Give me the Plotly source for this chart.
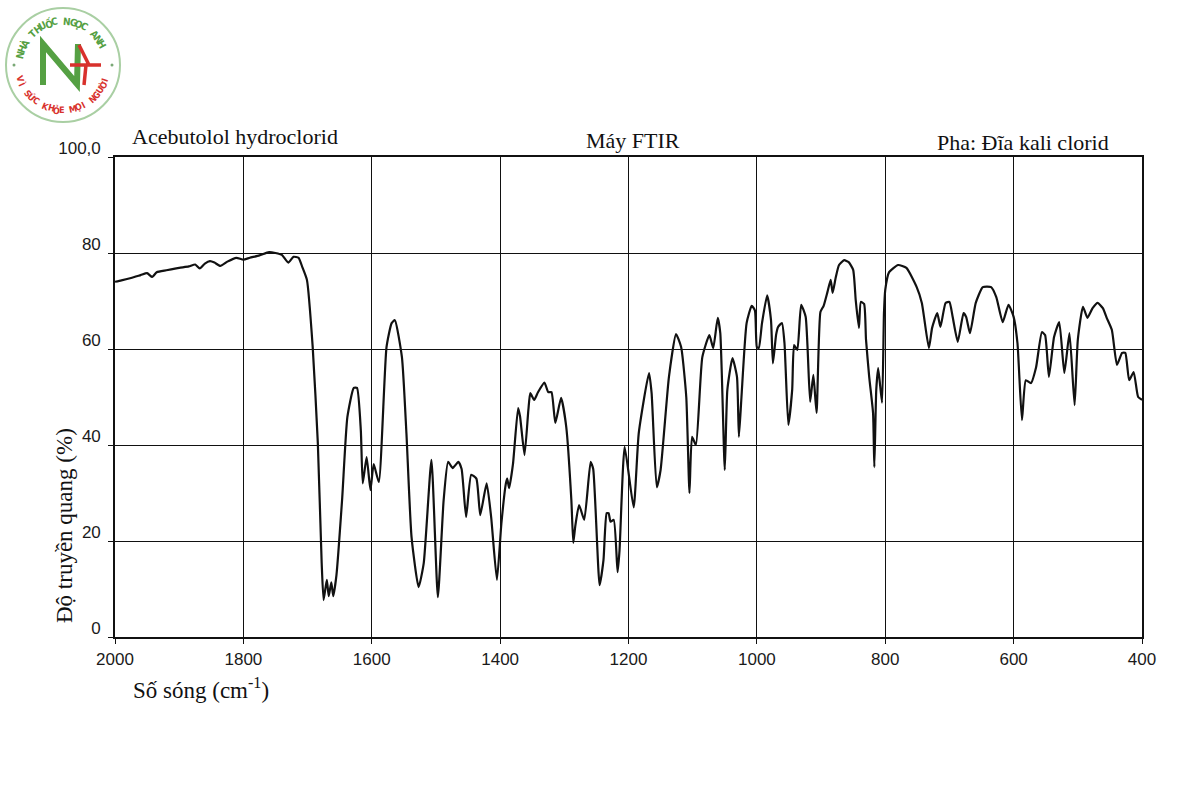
import math
import plotly.graph_objects as go

# ---------------- data ----------------
wavenumber = [
    2000, 1990, 1975, 1960, 1950, 1942, 1935, 1920, 1900, 1885, 1875, 1868, 1860, 1852,
    1845, 1836, 1825, 1811, 1800, 1790, 1775, 1760, 1750, 1740, 1730, 1722, 1714, 1708,
    1701, 1692, 1684, 1678, 1675, 1670, 1667, 1663, 1660, 1655, 1646, 1638, 1628, 1623,
    1617, 1614, 1608, 1602, 1597, 1589, 1577, 1569, 1564, 1553, 1546, 1538, 1527, 1519,
    1507, 1497, 1488, 1481, 1474, 1465, 1460, 1453, 1445, 1437, 1431, 1421, 1414, 1405,
    1398, 1391, 1389, 1386, 1380, 1372, 1369, 1362, 1356, 1353, 1347, 1341, 1331, 1325,
    1320, 1314, 1305, 1297, 1289, 1286, 1283, 1277, 1269, 1259, 1255, 1245, 1239, 1234,
    1231, 1228, 1223, 1217, 1214, 1206, 1192, 1184, 1168, 1164, 1156, 1150, 1137, 1126,
    1118, 1110, 1105, 1101, 1095, 1085, 1074, 1068, 1061, 1057, 1050, 1046, 1038, 1031,
    1028, 1024, 1016, 1008, 1003, 1000, 997, 992, 984, 978, 975, 970, 967, 961, 957,
    951, 945, 942, 937, 931, 924, 917, 912, 907, 901, 896, 890, 885, 882, 877, 872,
    864, 857, 850, 846, 841, 838, 833, 830, 825, 819, 817, 814, 811, 805, 802, 800,
    794, 780, 767, 751, 743, 732, 727, 719, 714, 706, 700, 695, 687, 678, 674, 668,
    659, 648, 635, 627, 617, 608, 600, 594, 587, 581, 573, 565, 556, 551, 545, 537,
    529, 521, 513, 505, 500, 492, 485, 477, 469, 461, 455, 447, 439, 431, 426, 420,
    413, 406, 400,
]
transmittance = [
    74.0, 74.3, 74.8, 75.4, 75.8, 75.0, 76.0, 76.4, 76.9, 77.2, 77.6, 76.8, 77.8, 78.3,
    78.0, 77.3, 78.2, 79.0, 78.6, 79.0, 79.5, 80.2, 80.0, 79.6, 78.0, 79.2, 79.0, 77.0,
    74.4, 60.4, 40.4, 15.4, 7.7, 11.9, 8.5, 11.4, 8.5, 12.9, 29.0, 45.8, 51.9, 51.9,
    43.0, 32.0, 37.5, 30.6, 36.0, 32.3, 60.4, 65.4, 66.0, 58.3, 42.5, 20.8, 10.4, 15.4,
    36.9, 8.3, 28.5, 36.5, 35.2, 36.5, 35.0, 25.0, 33.8, 33.0, 25.4, 32.0, 25.0, 11.9,
    23.7, 32.0, 33.0, 31.0, 36.0, 47.7, 46.0, 37.9, 47.3, 50.8, 49.4, 51.0, 53.0, 51.0,
    51.0, 44.6, 49.8, 43.8, 28.5, 19.6, 23.0, 27.5, 24.4, 36.5, 35.0, 10.8, 16.0, 25.8,
    25.8, 24.0, 24.4, 13.5, 18.0, 39.6, 27.0, 42.5, 55.0, 50.8, 31.2, 34.8, 54.2, 63.1,
    60.4, 50.0, 30.0, 41.7, 40.0, 58.3, 62.9, 60.2, 66.5, 63.3, 34.8, 51.5, 58.1, 54.2,
    41.7, 50.0, 65.4, 69.0, 68.0, 60.4, 60.2, 65.4, 71.2, 66.0, 57.0, 63.0, 64.6, 65.4, 61.2,
    44.2, 51.5, 60.8, 59.8, 69.2, 66.7, 49.0, 54.6, 46.7, 67.7, 69.0, 71.9, 74.4, 71.7, 75.0, 77.5,
    78.5, 78.1, 76.5, 70.2, 64.4, 69.8, 69.4, 62.0, 54.2, 46.7, 35.4, 51.5, 56.0, 48.8, 67.5, 72.3,
    76.0, 77.5, 76.9, 72.9, 69.6, 60.2, 64.4, 67.5, 64.6, 69.6, 69.8, 66.7, 61.5, 67.5, 66.7, 63.3,
    69.6, 72.9, 72.9, 70.8, 65.6, 69.2, 66.7, 61.2, 45.2, 53.5, 52.9, 56.2, 63.5, 62.9, 54.2, 62.5,
    65.6, 55.0, 63.3, 48.3, 61.9, 68.8, 66.5, 68.5, 69.6, 68.5, 66.5, 64.0, 56.7, 59.2, 59.2, 53.5,
    55.2, 50.0, 49.4,
]

x_tick_values = [2000, 1800, 1600, 1400, 1200, 1000, 800, 600, 400]
x_tick_labels = ["2000", "1800", "1600", "1400", "1200", "1000", "800", "600", "400"]
y_tick_values = [0, 20, 40, 60, 80, 100]
y_tick_labels = ["0", "20", "40", "60", "80", "100,0"]

title_left = "Acebutolol hydroclorid"
title_mid = "Máy FTIR"
title_right = "Pha: Đĩa kali clorid"
y_title = "Độ truyền quang (%)"
x_title = "Số sóng (cm<sup>-1</sup>)"
logo_top = "NHÀ THUỐC NGỌC ANH"
logo_bottom = "VÌ SỨC KHỎE MỌI NGƯỜI"

# ---------------- layout geometry ----------------
W, H = 1200, 800
L, R, T, B = 115, 58, 157, 163
PW, PH = W - L - R, H - T - B


def px(xp):
    return (xp - L) / PW


def py(yp):
    return (H - B - yp) / PH


SERIF = "Liberation Serif, Times New Roman, serif"
NARROW = "Liberation Sans Narrow, Arial Narrow, Liberation Sans, Arial, sans-serif"

fig = go.Figure()
fig.add_trace(go.Scatter(
    x=wavenumber, y=transmittance, mode="lines",
    line=dict(color="#111111", width=2.2, shape="spline", smoothing=0.5),
    hoverinfo="skip", showlegend=False,
))

annotations = [
    dict(text=title_left, x=px(130), y=py(137), xanchor="left", yanchor="middle",
         font=dict(family=SERIF, size=22, color="#111")),
    dict(text=title_mid, x=px(633), y=py(141), xanchor="center", yanchor="middle",
         font=dict(family=SERIF, size=22, color="#111")),
    dict(text=title_right, x=px(1111), y=py(142), xanchor="right", yanchor="middle",
         font=dict(family=SERIF, size=22, color="#111")),
    dict(text=y_title, x=px(64), y=py(526), xanchor="center", yanchor="middle",
         textangle=-90, font=dict(family=SERIF, size=23, color="#111")),
    dict(text=x_title, x=px(131), y=py(688), xanchor="left", yanchor="middle",
         font=dict(family=SERIF, size=23, color="#111")),
]

# ---------------- logo ----------------
cx, cy, r_out = 63, 65, 57
GREEN, RED = "#55a043", "#d8312c"
shapes = [
    dict(type="circle", xref="paper", yref="paper",
         x0=px(cx - r_out), x1=px(cx + r_out), y0=py(cy + r_out), y1=py(cy - r_out),
         line=dict(color="#a9cfa3", width=2)),
    dict(type="path", xref="paper", yref="paper",
         path=f"M {px(43)},{py(85)} L {px(43)},{py(44)} L {px(77)},{py(84)} L {px(78)},{py(44)}",
         line=dict(color=GREEN, width=6)),
    dict(type="path", xref="paper", yref="paper",
         path=f"M {px(79)},{py(45)} L {px(89)},{py(65)} M {px(70)},{py(65)} L {px(101)},{py(65)} "
              f"M {px(86)},{py(65)} L {px(84)},{py(85)}",
         line=dict(color=RED, width=3.5)),
]
for ang in (0, 180):
    a = math.radians(ang)
    dx, dy = cx + 49 * math.cos(a), cy - 49 * math.sin(a)
    shapes.append(dict(type="circle", xref="paper", yref="paper",
                       x0=px(dx - 1.5), x1=px(dx + 1.5), y0=py(dy + 1.5), y1=py(dy - 1.5),
                       fillcolor="#7aa876", line=dict(width=0)))

LOGO_FONT = "DejaVu Sans Condensed, DejaVu Sans"
r_txt = 44
n = len(logo_top)
for i, ch in enumerate(logo_top):
    if ch == " ":
        continue
    th = 166 - i * (138 / (n - 1))
    a = math.radians(th)
    annotations.append(dict(text=ch, x=px(cx + r_txt * math.cos(a)), y=py(cy - r_txt * math.sin(a)),
                            xanchor="center", yanchor="middle", showarrow=False, textangle=90 - th,
                            font=dict(family=LOGO_FONT, size=10, color=GREEN, weight="bold")))
n = len(logo_bottom)
for i, ch in enumerate(logo_bottom):
    if ch == " ":
        continue
    th = 198 + i * (142 / (n - 1))
    a = math.radians(th)
    annotations.append(dict(text=ch, x=px(cx + (r_txt + 1) * math.cos(a)), y=py(cy - (r_txt + 1) * math.sin(a)),
                            xanchor="center", yanchor="middle", showarrow=False, textangle=270 - th,
                            font=dict(family=LOGO_FONT, size=9, color=RED, weight="bold")))

for a in annotations:
    a.setdefault("showarrow", False)
    a["xref"] = "paper"
    a["yref"] = "paper"

axis_common = dict(
    showgrid=True, gridcolor="#111111", gridwidth=1.3,
    showline=True, linecolor="#111111", linewidth=1.6, mirror=True,
    zeroline=False, ticks="outside", ticklen=5, tickcolor="#111111", tickwidth=1.3,
    tickfont=dict(family=NARROW, size=17, color="#1a1a1a"),
)

fig.update_layout(
    width=W, height=H,
    margin=dict(l=L, r=R, t=T, b=B, autoexpand=False),
    paper_bgcolor="white", plot_bgcolor="white",
    xaxis=dict(range=[2000, 400], tickvals=x_tick_values, ticktext=x_tick_labels,
               ticklabelstandoff=1, **axis_common),
    yaxis=dict(range=[0, 100], tickvals=y_tick_values, ticktext=y_tick_labels,
               ticklabelstandoff=4, ticklabelshift=-9, **axis_common),
    annotations=annotations,
    shapes=shapes,
    showlegend=False,
)

fig.write_html("out.html")
